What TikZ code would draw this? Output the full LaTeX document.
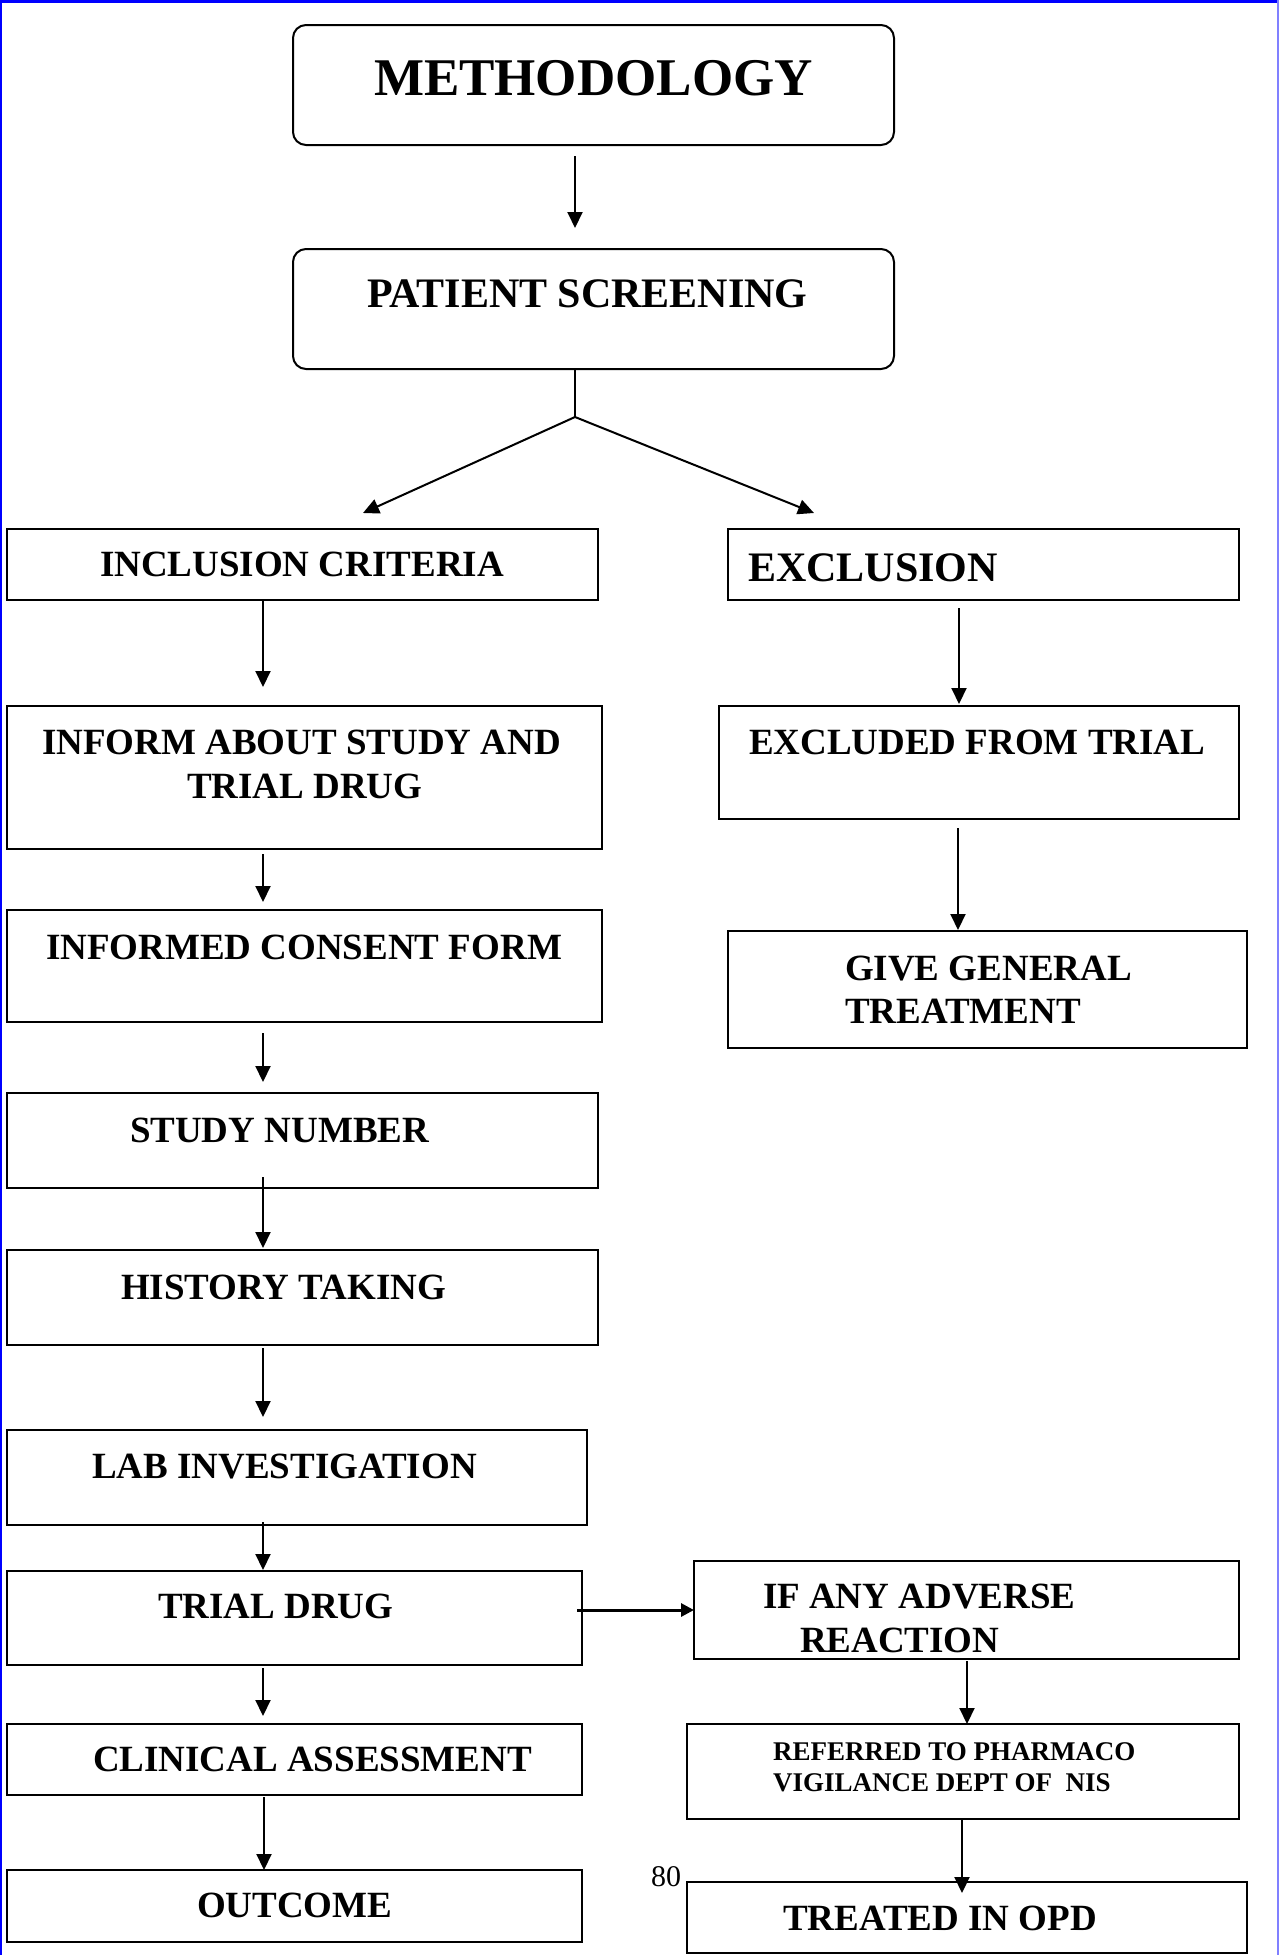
\documentclass[tikz,border=0pt]{standalone}
\usepackage{fontspec}
\setmainfont{Liberation Serif}
\usetikzlibrary{arrows.meta}
\newcommand\flowbox[6][]{\node[boxst,#1,anchor=north west,minimum width={#4-#2},minimum height={#5-#3}] (#6) at (#2,#3) {};}
\begin{document}
\begin{tikzpicture}[x=1pt,y=-1pt,
  boxst/.style={draw=black,line width=2pt,inner sep=0pt,outer sep=0pt},
  roundst/.style={rounded corners=13pt},
  txt/.style={anchor=base west,inner sep=0pt,outer sep=0pt,font=\fontsize{37}{44}\selectfont\bfseries},
  arr/.style={line width=2pt,-{Triangle[length=16pt,width=15pt]}},
  ln/.style={line width=2pt}]
\useasboundingbox (0,0) rectangle (1279,1955);
% page frame
\draw[blue,line width=3pt] (0,1.5) -- (1279,1.5);
\draw[blue,line width=2pt] (1,0) -- (1,1955);
\draw[blue!50,line width=1.5pt] (1278,0) -- (1278,1955);

% boxes
\flowbox[roundst]{293}{25}{894}{145}{meth}
\flowbox[roundst]{293}{249}{894}{369}{ps}
\flowbox{7}{529}{598}{600}{inc}
\flowbox{728}{529}{1239}{600}{exc}
\flowbox{7}{706}{602}{849}{inform}
\flowbox{719}{706}{1239}{819}{excl}
\flowbox{7}{910}{602}{1022}{consent}
\flowbox{728}{931}{1247}{1048}{give}
\flowbox{7}{1093}{598}{1188}{study}
\flowbox{7}{1250}{598}{1345}{hist}
\flowbox{7}{1430}{587}{1525}{lab}
\flowbox{7}{1571}{582}{1665}{trial}
\flowbox{694}{1561}{1239}{1659}{adv}
\flowbox{7}{1724}{582}{1795}{clin}
\flowbox{687}{1724}{1239}{1819}{ref}
\flowbox{7}{1870}{582}{1942}{out}
\flowbox{687}{1882}{1247}{1953}{opd}

% texts
\node[txt,font=\fontsize{53}{60}\selectfont\bfseries] (tmeth) at (374,95) {METHODOLOGY};
\node[txt,font=\fontsize{42}{50}\selectfont\bfseries] (tps) at (367,307) {PATIENT SCREENING};
\node[txt] (tinc) at (100,576) {INCLUSION CRITERIA};
\node[txt,font=\fontsize{42}{50}\selectfont\bfseries] (texc) at (748,581) {EXCLUSION};
\node[txt] (tinform1) at (42,754) {INFORM ABOUT STUDY AND};
\node[txt] (tinform2) at (187,798) {TRIAL DRUG};
\node[txt] (texcl) at (749,754) {EXCLUDED FROM TRIAL};
\node[txt] (tconsent) at (46,959) {INFORMED CONSENT FORM};
\node[txt] (tgive1) at (845,980) {GIVE GENERAL};
\node[txt] (tgive2) at (845,1023) {TREATMENT};
\node[txt] (tstudy) at (130,1142) {STUDY NUMBER};
\node[txt] (thist) at (121,1299) {HISTORY TAKING};
\node[txt] (tlab) at (92,1478) {LAB INVESTIGATION};
\node[txt] (ttrial) at (158,1618) {TRIAL DRUG};
\node[txt] (tadv1) at (763,1608) {IF ANY ADVERSE};
\node[txt] (tadv2) at (800,1652) {REACTION};
\node[txt,font=\fontsize{27}{31}\selectfont\bfseries] (tref1) at (773,1760) {REFERRED TO PHARMACO};
\node[txt,font=\fontsize{27}{31}\selectfont\bfseries] (tref2) at (773,1791) {VIGILANCE DEPT OF\ \ NIS};
\node[txt] (tclin) at (93,1771) {CLINICAL ASSESSMENT};
\node[txt] (tout) at (197,1917) {OUTCOME};
\node[txt] (topd) at (783,1930) {TREATED IN OPD};
\node[txt,font=\fontsize{30}{36}\selectfont] (tpage) at (651,1886) {80};

% connectors
\draw[arr] ([xshift=-18.5pt,yshift=-11pt]meth.south) -- ([xshift=-18.5pt,yshift=21pt]ps.north);
\coordinate (split) at (575,417);
\draw[ln] ([xshift=-18.5pt]ps.south) -- (split);
\draw[arr] (split) -- ([xshift=60.5pt,yshift=16pt]inc.north);
\draw[arr] (split) -- ([xshift=-169.5pt,yshift=16pt]exc.north);

\draw[arr] ([xshift=256pt,yshift=-1pt]inc.south west) -- ([xshift=256pt,yshift=19pt]inform.north west);
\draw[arr] ([xshift=256pt,yshift=-5pt]inform.south west) -- ([xshift=256pt,yshift=8pt]consent.north west);
\draw[arr] ([xshift=256pt,yshift=-11pt]consent.south west) -- ([xshift=256pt,yshift=11pt]study.north west);
\draw[arr] ([xshift=256pt,yshift=11pt]study.south west) -- ([xshift=256pt,yshift=2pt]hist.north west);
\draw[arr] ([xshift=256pt,yshift=-3pt]hist.south west) -- ([xshift=256pt,yshift=13pt]lab.north west);
\draw[arr] ([xshift=256pt,yshift=3pt]lab.south west) -- ([xshift=256pt,yshift=1pt]trial.north west);
\draw[arr] ([xshift=256pt,yshift=-3pt]trial.south west) -- ([xshift=256pt,yshift=8pt]clin.north west);
\draw[arr] ([xshift=257pt,yshift=-2pt]clin.south west) -- ([xshift=257pt]out.north west);

\draw[arr] ([xshift=231pt,yshift=-8pt]exc.south west) -- ([xshift=240pt,yshift=2pt]excl.north west);
\draw[arr] ([xshift=239pt,yshift=-9pt]excl.south west) -- ([xshift=230pt,yshift=1pt]give.north west);

\draw[arr,line width=3pt,-{Triangle[length=13pt,width=13pt]}] ([xshift=-5pt,yshift=8pt]trial.east) -- (adv.west);
\draw[arr] ([xshift=273pt,yshift=-2pt]adv.south west) -- ([xshift=280pt]ref.north west);
\draw[arr] ([xshift=275pt,yshift=-1pt]ref.south west) -- ([xshift=275pt,yshift=-11pt]opd.north west);
\end{tikzpicture}
\end{document}
